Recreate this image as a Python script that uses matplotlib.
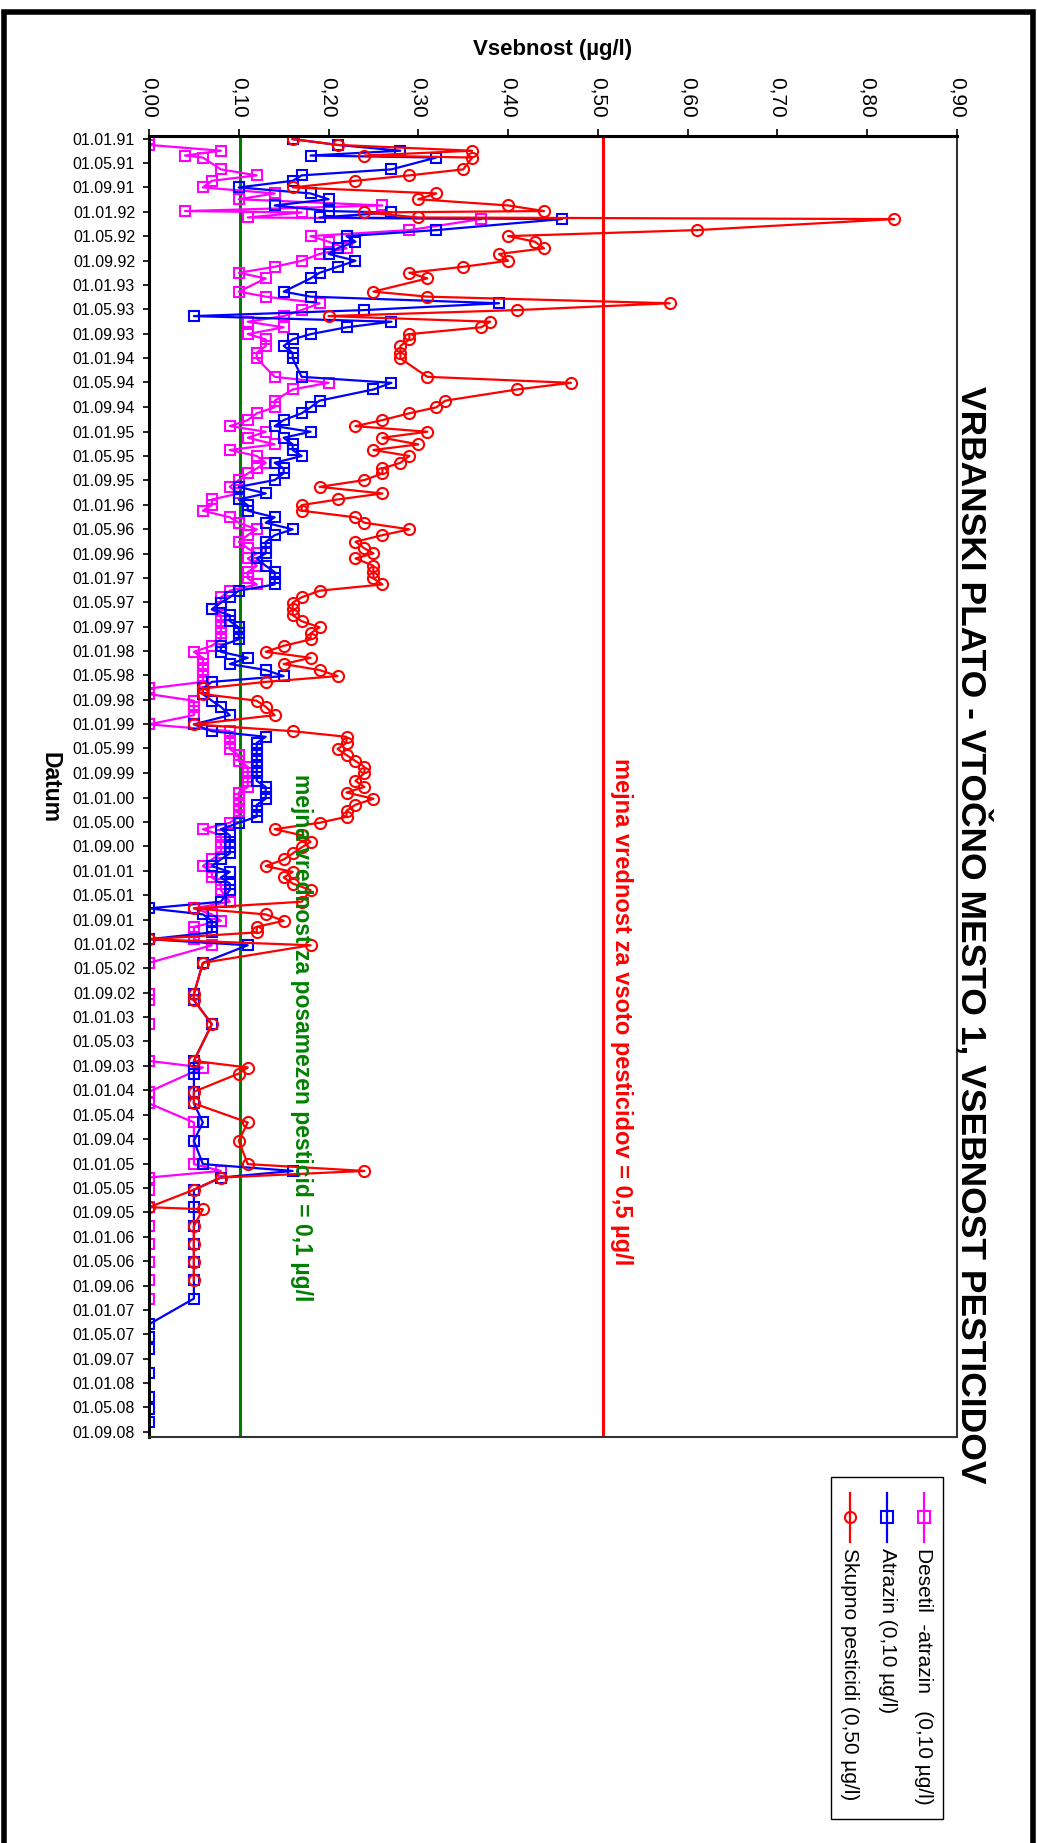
import numpy as np
import pandas as pd
import matplotlib
matplotlib.use('Agg')
import matplotlib.pyplot as plt
import matplotlib.dates as mdates
from matplotlib.lines import Line2D
from matplotlib.patches import Rectangle
from matplotlib.ticker import FuncFormatter

plt.rcParams['font.family'] = ['Liberation Sans', 'DejaVu Sans']

nan = np.nan

# sampling dates (Datum)
dates = [
    '1991-01-03', '1991-02-01', '1991-03-02', '1991-03-26', '1991-04-05', '1991-06-03',
    '1991-07-03', '1991-07-30', '1991-09-01', '1991-10-01', '1991-10-30', '1991-11-30',
    '1991-12-28', '1992-01-04', '1992-01-29', '1992-02-06', '1992-04-01', '1992-05-01',
    '1992-05-29', '1992-07-01', '1992-07-29', '1992-09-01', '1992-10-01', '1992-10-31',
    '1992-11-28', '1993-02-02', '1993-02-27', '1993-04-01', '1993-05-05', '1993-06-04',
    '1993-07-02', '1993-07-30', '1993-09-02', '1993-09-28', '1993-10-31', '1993-12-04',
    '1994-01-01', '1994-04-03', '1994-05-03', '1994-06-05', '1994-07-31', '1994-09-02',
    '1994-10-02', '1994-11-05', '1994-12-05', '1995-01-02', '1995-02-01', '1995-03-06',
    '1995-04-03', '1995-05-03', '1995-06-06', '1995-07-04', '1995-07-29', '1995-08-31',
    '1995-10-04', '1995-11-06', '1995-12-06', '1996-01-03', '1996-01-31', '1996-03-04',
    '1996-03-31', '1996-05-03', '1996-06-01', '1996-07-04', '1996-08-06', '1996-08-31',
    '1996-09-25', '1996-11-01', '1996-12-02', '1997-01-03', '1997-02-02', '1997-03-05',
    '1997-04-07', '1997-05-04', '1997-06-06', '1997-07-05', '1997-08-04', '1997-09-04',
    '1997-10-04', '1997-11-03', '1997-12-05', '1998-01-04', '1998-02-03', '1998-03-06',
    '1998-04-05', '1998-05-05', '1998-06-03', '1998-07-06', '1998-08-03', '1998-09-05',
    '1998-10-05', '1998-11-16', '1999-01-01', '1999-02-04', '1999-03-04', '1999-04-03',
    '1999-05-04', '1999-06-03', '1999-07-03', '1999-08-01', '1999-09-01', '1999-10-10',
    '1999-11-09', '1999-12-07', '2000-01-07', '2000-02-06', '2000-03-07', '2000-04-06',
    '2000-05-06', '2000-06-07', '2000-07-07', '2000-08-09', '2000-09-06', '2000-10-06',
    '2000-11-05', '2000-12-08', '2001-01-06', '2001-02-03', '2001-03-05', '2001-04-07',
    '2001-06-04', '2001-07-07', '2001-08-06', '2001-09-07', '2001-10-07', '2001-11-04',
    '2001-12-08', '2002-01-07', '2002-04-05', '2002-09-08', '2002-10-08', '2003-02-05',
    '2003-08-07', '2003-09-09', '2003-10-09', '2004-01-08', '2004-03-06', '2004-06-09',
    '2004-09-09', '2005-01-03', '2005-02-06', '2005-03-11', '2005-05-11', '2005-08-06',
    '2005-08-16', '2005-11-09', '2006-02-07', '2006-05-06', '2006-08-06', '2006-11-05',
    '2007-03-13', '2007-05-15', '2007-07-12', '2007-11-11', '2008-03-09', '2008-05-11',
    '2008-07-12',
]

# Desetil-atrazin (µg/l)
desetil = [
    .00, .00, .08, .04, .06, .08, .12, .07, .06, .14, .10, .26,
    .04, .17, .11, .37, .29, .18, .20, .22, .19, .17, .14, .10,
    .13, .10, .13, .19, .17, .15, .11, .15, .11, .13, .13, .12,
    .12, .14, .20, .16, .14, .14, .12, .11, .09, .13, .11, .14,
    .09, .12, .13, .12, .11, .10, .09, .10, .07, .07, .06, .09,
    .10, .12, .11, .10, .11, .12, .11, .12, .11, .11, .12, .09,
    .08, .08, .07, .08, .08, .08, .08, .08, .07, .05, .06, .06,
    .06, .06, .06, .00, .00, .05, .05, .05, .00, .09, .09, .09,
    .09, .10, .10, .11, .11, .11, .11, .10, .10, .10, .10, .10,
    .09, .06, .08, .08, .08, .08, .07, .06, .07, .07, .08, .08,
    .09, .05, .07, .08, .05, .05, .05, .07, .00, .00, .00, .00,
    .00, .06, nan, .00, .00, .05, .05, .05, .08, .00, .00, .00,
    nan, .00, .00, .00, .00, .00, nan, nan, nan, nan, nan, nan,
    nan,
]

# Atrazin (µg/l)
atrazin = [
    .16, .21, .28, .18, .32, .27, .17, .16, .10, .18, .20, .14,
    .20, .27, .19, .46, .32, .22, .23, .21, .20, .23, .21, .19,
    .18, .15, .18, .39, .24, .05, .27, .22, .18, .16, .15, .16,
    .16, .17, .27, .25, .19, .18, .17, .15, .14, .18, .15, .16,
    .16, .17, .14, .15, .15, .14, .10, .13, .10, .11, .11, .14,
    .13, .16, .14, .13, .13, .13, .12, .13, .14, .14, .14, .10,
    .09, .08, .07, .09, .09, .10, .10, .10, .08, .08, .11, .09,
    .13, .15, .07, .06, .06, .07, .08, .09, .05, .07, .13, .12,
    .12, .12, .12, .12, .12, .12, .13, .13, .13, .12, .12, .12,
    .10, .08, .09, .09, .09, .09, .08, .07, .09, .08, .09, .09,
    .08, .00, .06, .07, .07, .07, .00, .11, .06, .05, .05, .07,
    .05, .05, .05, .05, .05, .06, .05, .06, .16, .08, .05, .05,
    nan, .05, .05, .05, .05, .05, .00, .00, .00, .00, .00, .00,
    .00,
]

# Skupno pesticidi (µg/l)
skupno = [
    .16, .21, .36, .24, .36, .35, .29, .23, .16, .32, .30, .40,
    .44, .24, .30, .83, .61, .40, .43, .44, .39, .40, .35, .29,
    .31, .25, .31, .58, .41, .20, .38, .37, .29, .29, .28, .28,
    .28, .31, .47, .41, .33, .32, .29, .26, .23, .31, .26, .30,
    .25, .29, .28, .26, .26, .24, .19, .26, .21, .17, .17, .23,
    .24, .29, .26, .23, .24, .25, .23, .25, .25, .25, .26, .19,
    .17, .16, .16, .16, .17, .19, .18, .18, .15, .13, .18, .15,
    .19, .21, .13, .06, .06, .12, .13, .14, .05, .16, .22, .22,
    .21, .22, .23, .24, .24, .23, .24, .22, .25, .23, .22, .22,
    .19, .14, .17, .18, .17, .16, .15, .13, .16, .15, .16, .18,
    .17, .05, .13, .15, .12, .12, .00, .18, .06, .05, .05, .07,
    .05, .11, .10, .05, .05, .11, .10, .11, .24, .08, .05, .00,
    .06, .05, .05, .05, .05, nan, nan, nan, nan, nan, nan, nan,
    nan,
]

limit_single = 0.1
limit_total = 0.5

series_labels = ['Desetil  -atrazin   (0,10 µg/l)', 'Atrazin (0,10 µg/l)',
                 'Skupno pesticidi (0,50 µg/l)']
series_colors = ['#FF00FF', '#0000FF', '#FF0000']
series_markers = ['s', 's', 'o']
series_ms = [7.5, 7.5, 8]

W, H = 1037, 1843
fig = plt.figure(figsize=(W / 100, H / 100), dpi=100)


def fx(px):
    return px / W


def fy(py):
    return 1 - py / H


ax = fig.add_axes([fx(149), fy(1436.7), fx(957) - fx(149), fy(135.7) - fy(1436.7)])

d = pd.to_datetime(pd.Series(dates))
for vals, col, mk, ms in zip([desetil, atrazin, skupno], series_colors, series_markers, series_ms):
    v = np.array(vals, dtype=float)
    m = ~np.isnan(v)
    ax.plot(v[m], d[m], color=col, lw=1.6, marker=mk, ms=ms,
            mfc='none', mec=col, mew=1.5)

ax.axvline(limit_single * 1.015, color='#008000', lw=2.2, zorder=1)
ax.axvline(limit_total * 1.012, color='#FF0000', lw=2.2, zorder=1)

ax.set_xlim(0, 0.9)
ax.set_ylim(pd.Timestamp('2008-09-24'), pd.Timestamp('1990-12-17'))
ax.set_xticks(np.arange(0, 0.91, 0.1))
ax.xaxis.set_major_formatter(FuncFormatter(lambda x, p: f'{x:.2f}'.replace('.', ',')))
ax.xaxis.tick_top()
ax.tick_params(axis='x', which='major', direction='out', length=5, width=1.2,
               labelsize=15, labelrotation=270, pad=8)
ax.yaxis.set_major_locator(mdates.MonthLocator(bymonth=[1, 5, 9]))
ax.yaxis.set_major_formatter(mdates.DateFormatter('%d.%m.%y'))
ax.tick_params(axis='y', which='major', direction='out', length=4, width=1.2,
               labelsize=11.5, pad=6)

for s in ['left', 'top']:
    ax.spines[s].set_linewidth(2.2)
for s in ['right', 'bottom']:
    ax.spines[s].set_linewidth(1.5)
    ax.spines[s].set_color('#333333')

ax.text(0.585, 0.327, 'mejna vrednost za vsoto pesticidov = 0,5 µg/l', transform=ax.transAxes,
        rotation=270, ha='center', va='center', color='#FF0000', fontsize=17, fontweight='bold')
ax.text(0.189, 0.3065, 'mejna vrednost za posamezen pesticid = 0,1 µg/l', transform=ax.transAxes,
        rotation=270, ha='center', va='center', color='#008000', fontsize=16.5, fontweight='bold')

fig.text(fx(553), fy(50), 'Vsebnost (µg/l)', ha='center', va='center', fontsize=16, fontweight='bold')
fig.text(fx(50), fy(787), 'Datum', rotation=270, ha='center', va='center', fontsize=16.5, fontweight='bold')
fig.text(fx(973), fy(935), 'VRBANSKI PLATO - VTOČNO MESTO 1, VSEBNOST PESTICIDOV', rotation=270,
         ha='center', va='center', fontsize=25.5, fontweight='bold')

# legend drawn by hand, rotated like the rest of the chart
fig.patches.append(Rectangle((fx(830.7), fy(1819)), fx(943) - fx(830.7), fy(1476.7) - fy(1819),
                             transform=fig.transFigure, fill=False, ec='black', lw=1))
for lab, col, mk, px in zip(series_labels, series_colors, series_markers, [924, 887, 850]):
    fig.lines.append(Line2D([fx(px), fx(px)], [fy(1493), fy(1542)], transform=fig.transFigure,
                            color=col, lw=1.6))
    fig.lines.append(Line2D([fx(px)], [fy(1517)], transform=fig.transFigure, color=col,
                            marker=mk, ms=8, mfc='none', mec=col, mew=1.5))
    fig.text(fx(px), fy(1548), lab, rotation=270, rotation_mode='anchor', ha='left', va='center',
             fontsize=15)

# outer frame
fig.patches.append(Rectangle((fx(4), fy(1900)), fx(1033) - fx(4), fy(12) - fy(1900),
                             transform=fig.transFigure, fill=False, ec='black', lw=4))

fig.savefig('out.png', dpi=100)
